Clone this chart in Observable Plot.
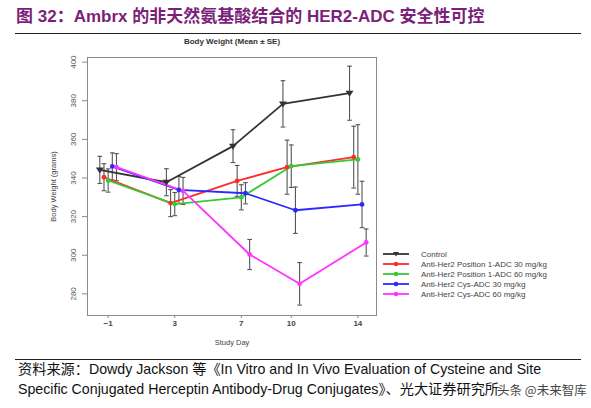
<!DOCTYPE html>
<html><head><meta charset="utf-8">
<script src="https://cdn.jsdelivr.net/npm/d3@7"></script>
<script src="https://cdn.jsdelivr.net/npm/@observablehq/plot@0.6"></script>
<style>
body{margin:0;background:#fff;width:591px;height:408px;position:relative;overflow:hidden;font-family:"Liberation Sans",Arial,sans-serif;}
#title{position:absolute;left:16px;top:6px;font-weight:bold;font-size:17px;font-family:"Liberation Sans","Noto Sans CJK SC",sans-serif;color:#7b1f7b;white-space:nowrap;line-height:22px}
#rule1{position:absolute;left:15px;top:33px;width:566px;border-top:1.3px solid #222}
#chart{position:absolute;left:0;top:36px}
#ctitle{position:absolute;top:37px;left:232px;transform:translateX(-50%);font-weight:bold;font-size:8px;line-height:10px;color:#333;white-space:nowrap}
#legend{position:absolute;left:383px;top:249px;font-size:8px;color:#444}
.lrow{height:10px;display:flex;align-items:center;white-space:nowrap}
.lrow svg{margin-right:12px}
#rule2{position:absolute;left:15px;top:359px;width:566px;border-top:1.3px solid #222}
.src{position:absolute;left:18px;font-size:14.2px;color:#111;white-space:nowrap;font-family:"Liberation Sans","Noto Sans CJK SC",sans-serif;line-height:18px}
#wm{position:absolute;left:497px;top:380px;font-size:12.5px;color:#444;font-family:"Noto Sans CJK SC",sans-serif;text-shadow:0 0 2px #fff,0 0 2px #fff,0 0 2px #fff;white-space:nowrap}
</style></head>
<body>
<div id="title">图 32：Ambrx 的非天然氨基酸结合的 HER2-ADC 安全性可控</div>
<div id="rule1"></div>
<div id="chart"></div>
<div id="ctitle">Body Weight (Mean ± SE)</div>
<div id="legend"></div>
<div id="rule2"></div>
<div class="src" style="top:360px">资料来源：Dowdy Jackson 等《In Vitro and In Vivo Evaluation of Cysteine and Site</div>
<div class="src" style="top:380px">Specific Conjugated Herceptin Antibody-Drug Conjugates》、光大证券研究所</div>
<div id="wm">头条 @未来智库</div>
<script>
const days = [-1, 3, 7, 10, 14];
const seriesNames = ["Control", "Anti-Her2 Position 1-ADC 30 mg/kg", "Anti-Her2 Position 1-ADC 60 mg/kg", "Anti-Her2 Cys-ADC 30 mg/kg", "Anti-Her2 Cys-ADC 60 mg/kg"];
const seriesColors = ["#333333", "#ff2b2b", "#33cc33", "#2a2aff", "#ff33ff"];
const control = [344.2, 337.8, 356.5, 378.4, 383.9];
const controlSE = [7, 7, 8.5, 12, 14];
const pos1_30 = [340.4, 327.0, 338.5, 345.6, 350.8];
const pos1_30SE = [7, 7, 8, 14, 16];
const pos1_60 = [338.7, 326.5, 330.0, 346.1, 349.6];
const pos1_60SE = [6, 6, 6.5, 11, 18];
const cys_30 = [346.0, 333.8, 332.1, 323.3, 326.3];
const cys_30SE = [7, 7, 5.5, 12, 12];
const cys_60 = [345.6, 333.3, 300.4, 285.2, 306.6];
const cys_60SE = [7, 7, 7.8, 11, 7];
const yTicks = [280, 300, 320, 340, 360, 380, 400];
const dodge = [-0.5, -0.25, 0, 0.25, 0.5];

const means = [control, pos1_30, pos1_60, cys_30, cys_60];
const ses = [controlSE, pos1_30SE, pos1_60SE, cys_30SE, cys_60SE];
const rows = [];
seriesNames.forEach((name, i) => days.forEach((d, j) => rows.push({series: name, day: d, xp: d + dodge[i], mean: means[i][j], se: ses[i][j]})));

const triDown = {draw(ctx, size) { const s = Math.sqrt(size) * 0.75; ctx.moveTo(-s, -s * 0.6); ctx.lineTo(s, -s * 0.6); ctx.lineTo(0, s * 0.9); ctx.closePath(); }};
const cap = 0.14;
const barColor = "#555";

const chart = Plot.plot({
  width: 591, height: 320,
  marginLeft: 87, marginRight: 215, marginTop: 21, marginBottom: 41,
  style: {fontFamily: "Liberation Sans, Arial, sans-serif", background: "#fff"},
  x: {domain: [-2.24, 15.12]},
  y: {domain: [268.8, 402.4]},
  color: {domain: seriesNames, range: seriesColors},
  marks: [
    Plot.frame({stroke: "#8a8a8a", strokeWidth: 1}),
    Plot.axisX({ticks: days, tickSize: 3, tickPadding: 2, fontSize: 8, fontWeight: "bold", fill: "#444", stroke: "#888", label: null}),
    Plot.axisY({ticks: yTicks, tickSize: 5, tickFormat: () => "", stroke: "#888", label: null}),
    Plot.text(yTicks, {y: d => d, text: d => String(d), frameAnchor: "left", dx: -14, rotate: -90, textAnchor: "middle", fontSize: 8, fill: "#555"}),
    Plot.text(["Body Weight (grams)"], {frameAnchor: "left", dx: -34, rotate: -90, textAnchor: "middle", fontSize: 7.5, fill: "#444"}),
    Plot.text(["Study Day"], {frameAnchor: "bottom", dy: 29, fontSize: 7.5, fill: "#444"}),
    Plot.ruleX(rows, {x: "xp", y1: d => d.mean - d.se, y2: d => d.mean + d.se, stroke: barColor, strokeWidth: 1.1}),
    Plot.link(rows, {x1: d => d.xp - cap, x2: d => d.xp + cap, y1: d => d.mean + d.se, y2: d => d.mean + d.se, stroke: barColor, strokeWidth: 1.1}),
    Plot.link(rows, {x1: d => d.xp - cap, x2: d => d.xp + cap, y1: d => d.mean - d.se, y2: d => d.mean - d.se, stroke: barColor, strokeWidth: 1.1}),
    Plot.line(rows, {x: "xp", y: "mean", z: "series", stroke: "series", strokeWidth: 1.8}),
    Plot.dot(rows.filter(d => d.series !== "Control"), {x: "xp", y: "mean", fill: "series", r: 2.4}),
    Plot.dot(rows.filter(d => d.series === "Control"), {x: "xp", y: "mean", fill: "series", symbol: triDown, r: 3})
  ]
});
document.getElementById("chart").appendChild(chart);

const legend = d3.select("#legend");
seriesNames.forEach((name, i) => {
  const row = legend.append("div").attr("class", "lrow");
  const s = row.append("svg").attr("width", 26).attr("height", 8);
  s.append("line").attr("x1", 0).attr("x2", 26).attr("y1", 4).attr("y2", 4).attr("stroke", seriesColors[i]).attr("stroke-width", 1.8);
  if (i === 0) s.append("path").attr("d", "M10,2L16,2L13,6.5Z").attr("fill", seriesColors[i]);
  else s.append("circle").attr("cx", 13).attr("cy", 4).attr("r", 2.3).attr("fill", seriesColors[i]);
  row.append("span").text(name);
});
</script>
</body></html>
